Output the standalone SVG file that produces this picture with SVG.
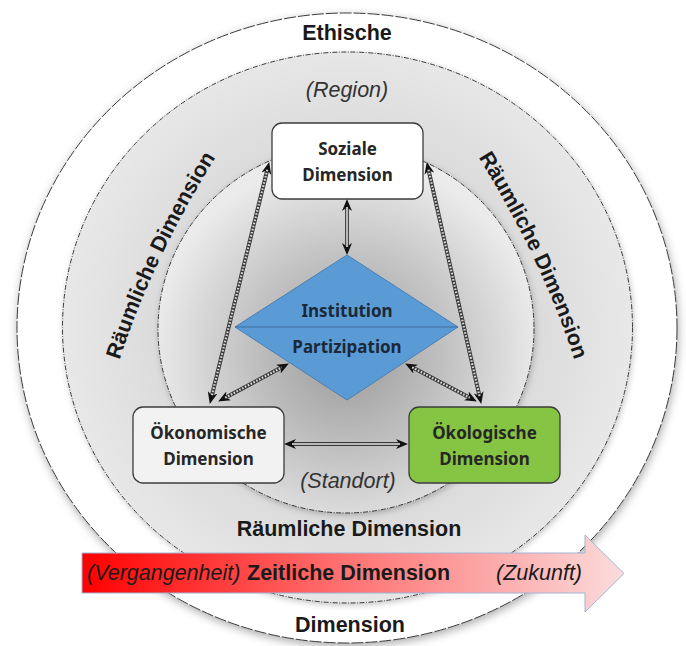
<svg xmlns="http://www.w3.org/2000/svg" width="686" height="646" viewBox="0 0 686 646">
  <defs>
    <style>
      .lbl { font-family: "Liberation Sans", Arial, sans-serif; font-size: 21.5px; font-weight: bold; fill: #1a1a1a; }
      .it { font-family: "Liberation Sans", Arial, sans-serif; font-size: 21.5px; font-style: italic; fill: #333333; }
      .box { stroke: #3c3c3c; stroke-width: 1.3; }
      .bt { font-family: "Noto Sans", "Open Sans", sans-serif; font-size: 17px; font-weight: bold; fill: #262626; text-anchor: middle; }
      .dt { font-family: "Noto Sans", "Open Sans", sans-serif; font-size: 17px; font-weight: bold; fill: #1b2838; text-anchor: middle; }
      .ring { stroke: #3a3a3a; stroke-width: 1; fill: none; }
      .base { stroke: #3a3a3a; stroke-width: 4; fill: none; marker-start: url(#ah); marker-end: url(#ah); }
      .stripe { stroke: #d8d8d8; stroke-width: 2.2; stroke-dasharray: 1.6 1.6; fill: none; }
      .shaft { stroke: #b8b8b8; stroke-width: 2.2; fill: none; }
    </style>
    <marker id="ah" viewBox="0 0 12 10" refX="4" refY="5" markerWidth="12" markerHeight="10" markerUnits="userSpaceOnUse" orient="auto-start-reverse">
      <path d="M0,0 L12,5 L0,10 L3.5,5 Z" fill="#111"/>
    </marker>
    <filter id="sh" x="-10%" y="-10%" width="120%" height="120%">
      <feGaussianBlur in="SourceAlpha" stdDeviation="5"/>
      <feOffset dx="1" dy="3" result="b"/>
      <feFlood flood-color="#000" flood-opacity="0.35"/>
      <feComposite in2="b" operator="in"/>
      <feMerge><feMergeNode/><feMergeNode in="SourceGraphic"/></feMerge>
    </filter>
    <filter id="sh2" x="-10%" y="-10%" width="120%" height="120%">
      <feGaussianBlur in="SourceAlpha" stdDeviation="3"/>
      <feOffset dx="1" dy="2" result="b"/>
      <feFlood flood-color="#000" flood-opacity="0.25"/>
      <feComposite in2="b" operator="in"/>
      <feMerge><feMergeNode/><feMergeNode in="SourceGraphic"/></feMerge>
    </filter>
    <radialGradient id="gMid" gradientUnits="userSpaceOnUse" cx="347" cy="328" r="285">
      <stop offset="0.6" stop-color="#d9d9d9"/>
      <stop offset="1" stop-color="#e8e8e8"/>
    </radialGradient>
    <radialGradient id="gIn" gradientUnits="userSpaceOnUse" cx="347" cy="355" r="195">
      <stop offset="0" stop-color="#9a9a9a"/>
      <stop offset="0.45" stop-color="#bdbdbd"/>
      <stop offset="1" stop-color="#ebebeb"/>
    </radialGradient>
    <linearGradient id="gArr" x1="82" y1="0" x2="624" y2="0" gradientUnits="userSpaceOnUse">
      <stop offset="0" stop-color="#ff0000"/>
      <stop offset="0.45" stop-color="#ff6a6a"/>
      <stop offset="1" stop-color="#fbdcdc"/>
    </linearGradient>
    <path id="pL" d="M117,368 Q150,262 220,150"/>
    <path id="pR" d="M474,150 Q544,262 577,368"/>
  </defs>

  <rect width="686" height="646" fill="#ffffff"/>

  <g id="rings">
    <ellipse cx="347" cy="328" rx="330" ry="315" fill="#ffffff" filter="url(#sh)"/>
    <ellipse class="ring" cx="347" cy="328" rx="330" ry="315" stroke-dasharray="12 2"/>
    <ellipse cx="347.5" cy="327.5" rx="285" ry="275.5" fill="url(#gMid)" filter="url(#sh2)"/>
    <ellipse class="ring" cx="347.5" cy="327.5" rx="285" ry="275.5" stroke-dasharray="5 1.5 1 1.5"/>
    <ellipse cx="346" cy="329" rx="188" ry="184" fill="url(#gIn)" filter="url(#sh2)"/>
    <ellipse class="ring" cx="346" cy="329" rx="188" ry="184" stroke-dasharray="5 1.5 1 1.5"/>
  </g>

  <g id="ring-labels">
    <text class="lbl" x="347" y="40" text-anchor="middle">Ethische</text>
    <text class="it" x="347" y="97" text-anchor="middle">(Region)</text>
    <text class="lbl"><textPath href="#pL" startOffset="50%" text-anchor="middle">Räumliche Dimension</textPath></text>
    <text class="lbl"><textPath href="#pR" startOffset="50%" text-anchor="middle">Räumliche Dimension</textPath></text>
    <text class="it" x="348" y="488" text-anchor="middle">(Standort)</text>
    <text class="lbl" x="349" y="536" text-anchor="middle">Räumliche Dimension</text>
    <text class="lbl" x="350" y="632" text-anchor="middle">Dimension</text>
  </g>

  <g id="connectors">
    <line class="base" x1="347" y1="207" x2="347" y2="247"/>
    <line class="shaft" x1="347" y1="207" x2="347" y2="247"/>
    <line class="base" x1="267.3" y1="169.8" x2="211.7" y2="396.2"/>
    <line class="stripe" x1="267.3" y1="169.8" x2="211.7" y2="396.2"/>
    <line class="base" x1="428.5" y1="169.8" x2="479.5" y2="396.2"/>
    <line class="stripe" x1="428.5" y1="169.8" x2="479.5" y2="396.2"/>
    <line class="base" x1="225.2" y1="397.7" x2="281.8" y2="367.3"/>
    <line class="stripe" x1="225.2" y1="397.7" x2="281.8" y2="367.3"/>
    <line class="base" x1="412.2" y1="367.3" x2="469.8" y2="397.7"/>
    <line class="stripe" x1="412.2" y1="367.3" x2="469.8" y2="397.7"/>
    <line class="base" x1="292" y1="444" x2="400" y2="444"/>
    <line class="shaft" x1="292" y1="444" x2="400" y2="444"/>
  </g>

  <g id="soziale">
    <rect class="box" x="272" y="123" width="151" height="76" rx="10" fill="#ffffff"/>
    <text class="bt" x="347.5" y="155">Soziale</text>
    <text class="bt" x="347.5" y="181">Dimension</text>
  </g>

  <g id="institution">
    <path d="M347,255 L458,327 L347,400 L235,327 Z" fill="#5b9bd5" stroke="#4a7fb3" stroke-width="1"/>
    <line x1="235" y1="327" x2="458" y2="327" stroke="#3f6f9e" stroke-width="1.2"/>
    <text class="dt" x="347" y="317">Institution</text>
    <text class="dt" x="347" y="353">Partizipation</text>
  </g>

  <g id="oekonomische">
    <rect class="box" x="133" y="407" width="151" height="76" rx="10" fill="#f2f2f2"/>
    <text class="bt" x="208.5" y="439">Ökonomische</text>
    <text class="bt" x="208.5" y="465">Dimension</text>
  </g>

  <g id="oekologische">
    <rect class="box" x="409" y="407" width="151" height="76" rx="10" fill="#86c443"/>
    <text class="bt" x="484.5" y="439">Ökologische</text>
    <text class="bt" x="484.5" y="465">Dimension</text>
  </g>

  <g id="zeit">
    <path d="M82,553 L585,553 L585,535 L624,573.5 L585,612 L585,593 L82,593 Z" fill="url(#gArr)" stroke="#9fb4d6" stroke-width="1"/>
    <text class="it" x="87" y="580" fill="#1a1a1a" style="fill:#1a1a1a">(Vergangenheit)</text>
    <text class="lbl" x="247" y="580">Zeitliche Dimension</text>
    <text class="it" x="496" y="580" style="fill:#1a1a1a">(Zukunft)</text>
  </g>
</svg>
